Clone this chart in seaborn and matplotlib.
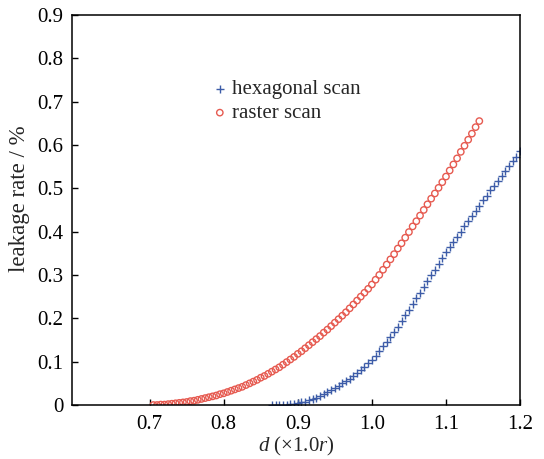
import matplotlib
matplotlib.use("Agg")
import matplotlib.pyplot as plt
import seaborn as sns
import pandas as pd
import numpy as np

# sampling grids (step 0.005 in d)
raster_d = np.round(np.arange(0.705, 1.1451, 0.005), 3)
hex_d = np.round(np.arange(0.865, 1.2001, 0.005), 3)

# leakage rate (%)
raster_rate = [
    0.000, 0.000, 0.001, 0.001, 0.002, 0.003, 0.004, 0.005, 0.006, 0.007,
    0.009, 0.010, 0.012, 0.014, 0.016, 0.018, 0.020, 0.022, 0.025, 0.027,
    0.030, 0.033, 0.036, 0.039, 0.042, 0.046, 0.050, 0.054, 0.058, 0.063,
    0.067, 0.072, 0.077, 0.082, 0.087, 0.093, 0.099, 0.105, 0.111, 0.118,
    0.124, 0.131, 0.138, 0.145, 0.152, 0.159, 0.167, 0.174, 0.182, 0.190,
    0.198, 0.206, 0.214, 0.223, 0.232, 0.241, 0.250, 0.259, 0.268, 0.278,
    0.289, 0.300, 0.312, 0.324, 0.336, 0.348, 0.361, 0.373, 0.386, 0.399,
    0.412, 0.424, 0.437, 0.450, 0.463, 0.476, 0.488, 0.501, 0.514, 0.527,
    0.541, 0.555, 0.569, 0.584, 0.598, 0.612, 0.626, 0.641, 0.655,
]
hex_rate = [
    0.000, 0.000, 0.000, 0.001, 0.001, 0.002, 0.003, 0.004,
    0.006, 0.008, 0.011, 0.014, 0.017, 0.021, 0.025, 0.030, 0.035, 0.040,
    0.045, 0.050, 0.055, 0.061, 0.067, 0.073, 0.080, 0.088, 0.096, 0.105,
    0.114, 0.124, 0.135, 0.146, 0.157, 0.169, 0.181, 0.194, 0.207, 0.220,
    0.233, 0.246, 0.259, 0.273, 0.286, 0.299, 0.312, 0.326, 0.339, 0.352,
    0.364, 0.376, 0.388, 0.400, 0.412, 0.424, 0.436, 0.448, 0.460, 0.472,
    0.483, 0.495, 0.506, 0.517, 0.528, 0.540, 0.551, 0.562, 0.573, 0.585,
]

x_ticks = [0.7, 0.8, 0.9, 1.0, 1.1, 1.2]
y_ticks = [0, 0.1, 0.2, 0.3, 0.4, 0.5, 0.6, 0.7, 0.8, 0.9]
y_tick_labels = ["0", "0.1", "0.2", "0.3", "0.4", "0.5", "0.6", "0.7", "0.8", "0.9"]

hex_df = pd.DataFrame({"d": hex_d, "rate": hex_rate})
raster_df = pd.DataFrame({"d": raster_d, "rate": raster_rate})

sns.set_style("ticks")
plt.rcParams["font.family"] = ["Liberation Serif", "DejaVu Serif"]
plt.rcParams["mathtext.fontset"] = "custom"
plt.rcParams["mathtext.rm"] = "Liberation Serif"
plt.rcParams["mathtext.it"] = "Liberation Serif:italic"

fig = plt.figure(figsize=(5.44, 4.59), dpi=100)
ax = fig.add_axes([0.132, 0.1176, 0.824, 0.85])

blue = "#3d5ca8"
red = "#e65a50"

sns.scatterplot(data=hex_df, x="d", y="rate", ax=ax, marker="+", s=30,
                color=blue, linewidth=1.0, label="hexagonal scan")
sns.scatterplot(data=raster_df, x="d", y="rate", ax=ax, marker="o", s=21,
                facecolors="none", edgecolor=red, linewidth=1.0, label="raster scan")

ax.set_xlim(0.595, 1.2)
ax.set_ylim(0, 0.9)
ax.set_xticks(x_ticks)
ax.set_xticklabels([f"{v:.1f}" for v in x_ticks])
ax.set_yticks(y_ticks)
ax.set_yticklabels(y_tick_labels)
ax.tick_params(direction="in", length=4, width=1.0, labelsize=15, pad=6,
               colors="black")
ax.tick_params(axis="x", pad=7)
for s in ax.spines.values():
    s.set_linewidth(1.1)
    s.set_color("black")

ax.set_xlabel(r"$d$ (×1.0$r$)", fontsize=15, labelpad=1)
ax.set_ylabel("leakage rate / %", fontsize=16.5)
ax.yaxis.set_label_coords(-0.094, 0.528)

ax.legend(loc="upper left", bbox_to_anchor=(0.293, 0.855), frameon=False,
          fontsize=15, handlelength=0.8, handletextpad=0.2, labelspacing=0.2,
          borderaxespad=0)

fig.savefig("out.png", dpi=100)
